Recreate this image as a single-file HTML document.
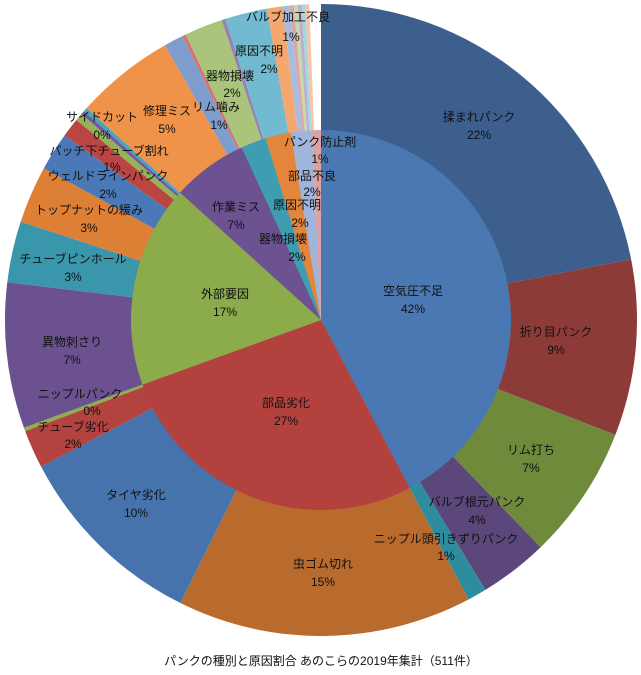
<!DOCTYPE html>
<html><head><meta charset="utf-8">
<style>
body{margin:0;background:#fff;}
svg{display:block;font-family:"Liberation Sans","Noto Sans CJK JP",sans-serif;}
text{font-size:12px;fill:#111;text-anchor:middle;dominant-baseline:middle;}
</style></head>
<body>
<svg id="chart" width="641" height="675" viewBox="0 0 641 675">
<g id="outer"></g>
<g id="inner"></g>
<g>
<text x="479" y="118">揉まれパンク</text><text x="479" y="136">22%</text>
<text x="556" y="333">折り目パンク</text><text x="556" y="351">9%</text>
<text x="531" y="451">リム打ち</text><text x="531" y="469">7%</text>
<text x="477" y="503">バルブ根元パンク</text><text x="477" y="521">4%</text>
<text x="446" y="540">ニップル頭引きずりパンク</text><text x="446" y="557">1%</text>
<text x="323" y="565">虫ゴム切れ</text><text x="323" y="583">15%</text>
<text x="136" y="496">タイヤ劣化</text><text x="136" y="514">10%</text>
<text x="73" y="428">チューブ劣化</text><text x="73" y="445">2%</text>
<text x="80" y="395">ニップルパンク</text><text x="92" y="412">0%</text>
<text x="72" y="343">異物刺さり</text><text x="72" y="361">7%</text>
<text x="73" y="260">チューブピンホール</text><text x="73" y="278">3%</text>
<text x="89" y="211">トップナットの緩み</text><text x="89" y="229">3%</text>
<text x="108" y="177">ウェルドラインパンク</text><text x="108" y="195">2%</text>
<text x="109" y="152">パッチ下チューブ割れ</text><text x="112" y="168">1%</text>
<text x="102" y="118">サイドカット</text><text x="102" y="136">0%</text>
<text x="167" y="112">修理ミス</text><text x="167" y="130">5%</text>
<text x="216" y="108">リム噛み</text><text x="219" y="126">1%</text>
<text x="230" y="77">器物損壊</text><text x="232" y="94">2%</text>
<text x="259" y="52">原因不明</text><text x="269" y="70">2%</text>
<text x="288" y="18">バルブ加工不良</text><text x="291" y="38">1%</text>
</g>
<g>
<text x="320" y="143">パンク防止剤</text><text x="320" y="160">1%</text>
<text x="312" y="177">部品不良</text><text x="312" y="193">2%</text>
<text x="297" y="206">原因不明</text><text x="300" y="224">2%</text>
<text x="283" y="240">器物損壊</text><text x="297" y="258">2%</text>
<text x="236" y="208">作業ミス</text><text x="236" y="226">7%</text>
<text x="225" y="295">外部要因</text><text x="225" y="313">17%</text>
<text x="413" y="292">空気圧不足</text><text x="413" y="310">42%</text>
<text x="286" y="404">部品劣化</text><text x="286" y="422">27%</text>
</g>
<text x="321" y="662">パンクの種別と原因割合 あのこらの2019年集計（511件）</text>
</svg>
<script>
const innerLabels=["空気圧不足","部品劣化","外部要因","作業ミス","器物損壊","原因不明","部品不良","パンク防止剤"];
const innerValues=[216,139,88,33,11,11,9,4];
const innerColors=["#4a78b2","#b3423e","#8cab4b","#6c5290","#3f9db2","#e3853a","#9fb5dc","#dca3a2"];
const outerLabels=["揉まれパンク","折り目パンク","リム打ち","バルブ根元パンク","ニップル頭引きずりパンク","虫ゴム切れ","タイヤ劣化","チューブ劣化","ニップルパンク","異物刺さり","チューブピンホール","トップナットの緩み","ウェルドラインパンク","パッチ下チューブ割れ","サイドカット","その他a","その他b","修理ミス","リム噛み","その他c","器物損壊","その他d","原因不明","バルブ加工不良","その他e","その他f","その他g","その他h","その他i","その他j"];
const outerValues=[112,46,35,18,5,77,51,10,1,38,16,15,10,5,2,1,1,26,5,1,10,1,11,4,2,1,1,1,1,1];
const outerColors=["#3c5f8e","#8d3b38","#6f8a3b","#5b4779","#2f8c9e","#b96b2e","#4673ab","#b3433f","#8fae4c","#6b5190","#3a96ab","#de7f36","#4b79b7","#bb4542","#94b256","#7559a0","#45a6bd","#ef934a","#7e9ccc","#cf7977","#aac57b","#9583b3","#71bad0","#f4a76f","#a7bde0","#dba6a5","#c8d9a8","#bcb0d0","#a9d5e2","#f8c6a3"];
const cx=321,cy=320,R=316,r=190,total=511;
const ang=v=>v/total*2*Math.PI;
function pt(a,rad){return [cx+rad*Math.sin(a),cy-rad*Math.cos(a)];}
function arc(a0,a1,r1,r0){
 const large=(a1-a0)>Math.PI?1:0;
 const [x0,y0]=pt(a0,r1),[x1,y1]=pt(a1,r1);
 if(r0===0)return `M${cx},${cy}L${x0},${y0}A${r1},${r1} 0 ${large} 1 ${x1},${y1}Z`;
 const [x2,y2]=pt(a1,r0),[x3,y3]=pt(a0,r0);
 return `M${x0},${y0}A${r1},${r1} 0 ${large} 1 ${x1},${y1}L${x2},${y2}A${r0},${r0} 0 ${large} 0 ${x3},${y3}Z`;
}
const NS="http://www.w3.org/2000/svg";
function draw(g,vals,cols,labs,r1,r0,nm){
 let c=0;
 vals.forEach((v,i)=>{
  const a0=ang(c);c+=v;const a1=ang(c);
  const p=document.createElementNS(NS,"path");
  p.setAttribute("d",arc(a0,a1,r1,r0));
  p.setAttribute("fill",cols[i%cols.length]);
  
  
  g.appendChild(p);
 });
}
draw(document.getElementById("outer"),outerValues,outerColors,outerLabels,R,0,"outer-slice");
draw(document.getElementById("inner"),innerValues,innerColors,innerLabels,r,0,"inner-slice");
</script>
</body></html>
